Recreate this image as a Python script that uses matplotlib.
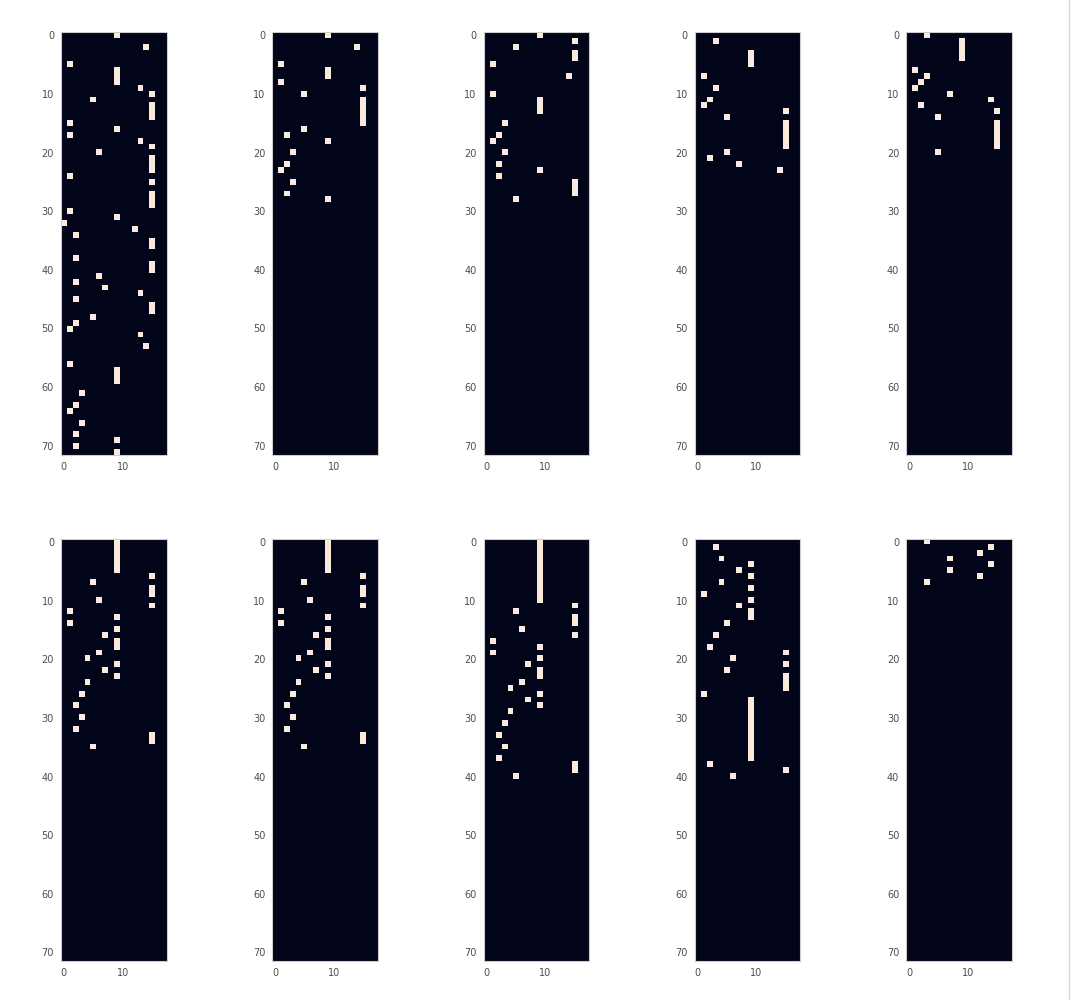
import numpy as np
import matplotlib
matplotlib.use("Agg")
import matplotlib.pyplot as plt
import seaborn as sns
from matplotlib.lines import Line2D

# grid size of every image
n_rows = 72
n_cols = 18

# each panel: list of vertical runs of "on" cells as (column, first_row, last_row)
panel_1 = [(9, 0, 0), (14, 2, 2), (1, 5, 5), (9, 6, 8), (13, 9, 9), (15, 10, 10), (5, 11, 11),
           (15, 12, 14), (1, 15, 15), (9, 16, 16), (1, 17, 17), (13, 18, 18), (15, 19, 19),
           (6, 20, 20), (15, 21, 23), (1, 24, 24), (15, 25, 25), (15, 27, 29), (1, 30, 30),
           (9, 31, 31), (0, 32, 32), (12, 33, 33), (2, 34, 34), (15, 35, 36), (2, 38, 38),
           (15, 39, 40), (6, 41, 41), (2, 42, 42), (7, 43, 43), (13, 44, 44), (2, 45, 45),
           (15, 46, 47), (5, 48, 48), (2, 49, 49), (1, 50, 50), (13, 51, 51), (14, 53, 53),
           (1, 56, 56), (9, 57, 59), (3, 61, 61), (2, 63, 63), (1, 64, 64), (3, 66, 66),
           (2, 68, 68), (9, 69, 69), (2, 70, 70), (9, 71, 71)]
panel_2 = [(9, 0, 0), (14, 2, 2), (1, 5, 5), (9, 6, 7), (1, 8, 8), (15, 9, 9), (5, 10, 10),
           (15, 11, 15), (5, 16, 16), (2, 17, 17), (9, 18, 18), (3, 20, 20), (2, 22, 22),
           (1, 23, 23), (3, 25, 25), (2, 27, 27), (9, 28, 28)]
panel_3 = [(9, 0, 0), (15, 1, 1), (5, 2, 2), (15, 3, 4), (1, 5, 5), (14, 7, 7), (1, 10, 10),
           (9, 11, 13), (3, 15, 15), (2, 17, 17), (1, 18, 18), (3, 20, 20), (2, 22, 22),
           (9, 23, 23), (2, 24, 24), (15, 25, 27), (5, 28, 28)]
panel_4 = [(3, 1, 1), (9, 3, 5), (1, 7, 7), (3, 9, 9), (2, 11, 11), (1, 12, 12), (15, 13, 13),
           (5, 14, 14), (15, 15, 19), (5, 20, 20), (2, 21, 21), (7, 22, 22), (14, 23, 23)]
panel_5 = [(3, 0, 0), (9, 1, 4), (1, 6, 6), (3, 7, 7), (2, 8, 8), (1, 9, 9), (7, 10, 10),
           (14, 11, 11), (2, 12, 12), (15, 13, 13), (5, 14, 14), (15, 15, 19), (5, 20, 20)]
panel_6 = [(9, 0, 5), (15, 6, 6), (5, 7, 7), (15, 8, 9), (6, 10, 10), (15, 11, 11), (1, 12, 12),
           (9, 13, 13), (1, 14, 14), (9, 15, 15), (7, 16, 16), (9, 17, 18), (6, 19, 19),
           (4, 20, 20), (9, 21, 21), (7, 22, 22), (9, 23, 23), (4, 24, 24), (3, 26, 26),
           (2, 28, 28), (3, 30, 30), (2, 32, 32), (15, 33, 34), (5, 35, 35)]
panel_7 = [(9, 0, 5), (15, 6, 6), (5, 7, 7), (15, 8, 9), (6, 10, 10), (15, 11, 11), (1, 12, 12),
           (9, 13, 13), (1, 14, 14), (9, 15, 15), (7, 16, 16), (9, 17, 18), (6, 19, 19),
           (4, 20, 20), (9, 21, 21), (7, 22, 22), (9, 23, 23), (4, 24, 24), (3, 26, 26),
           (2, 28, 28), (3, 30, 30), (2, 32, 32), (15, 33, 34), (5, 35, 35)]
panel_8 = [(9, 0, 10), (15, 11, 11), (5, 12, 12), (15, 13, 14), (6, 15, 15), (15, 16, 16),
           (1, 17, 17), (9, 18, 18), (1, 19, 19), (9, 20, 20), (7, 21, 21), (9, 22, 23),
           (6, 24, 24), (4, 25, 25), (9, 26, 26), (7, 27, 27), (9, 28, 28), (4, 29, 29),
           (3, 31, 31), (2, 33, 33), (3, 35, 35), (2, 37, 37), (15, 38, 39), (5, 40, 40)]
panel_9 = [(3, 1, 1), (4, 3, 3), (9, 4, 4), (7, 5, 5), (9, 6, 6), (4, 7, 7), (9, 8, 8),
           (1, 9, 9), (9, 10, 10), (7, 11, 11), (9, 12, 13), (5, 14, 14), (3, 16, 16),
           (2, 18, 18), (15, 19, 19), (6, 20, 20), (15, 21, 21), (5, 22, 22), (15, 23, 25),
           (1, 26, 26), (9, 27, 37), (2, 38, 38), (15, 39, 39), (6, 40, 40)]
panel_10 = [(3, 0, 0), (14, 1, 1), (12, 2, 2), (7, 3, 3), (14, 4, 4), (7, 5, 5), (12, 6, 6),
            (3, 7, 7)]

panels = [panel_1, panel_2, panel_3, panel_4, panel_5,
          panel_6, panel_7, panel_8, panel_9, panel_10]

y_ticks = [0, 10, 20, 30, 40, 50, 60, 70]
x_ticks = [0, 10]

sns.set_style("whitegrid")

fig = plt.figure(figsize=(10.74, 10), dpi=100)
W, H = 1074.0, 1000.0
cell = 5.865                      # pixels per image cell
ax_w = n_cols * cell
ax_h = n_rows * cell
tops = [32.3, 539.0]              # top edge of each row of panels (px)

for k, runs in enumerate(panels):
    img = np.zeros((n_rows, n_cols))
    for col, r0, r1 in runs:
        img[r0:r1 + 1, col] = 1

    row, i = divmod(k, 5)
    left = 61 + i * 211.3
    ax = fig.add_axes([left / W, 1 - (tops[row] + ax_h) / H, ax_w / W, ax_h / H])
    ax.imshow(img, cmap="rocket", vmin=0, vmax=1, aspect="auto", interpolation="nearest")
    ax.grid(False)
    ax.set_xticks(x_ticks)
    ax.set_yticks(y_ticks)
    ax.tick_params(length=0, labelsize=7, labelcolor="0.3", pad=5)
    for s in ax.spines.values():
        s.set_color("0.8")
        s.set_linewidth(0.8)

# thin border line on the right edge of the picture
fig.add_artist(Line2D([1068.5 / W, 1068.5 / W], [0, 1], color="0.85", linewidth=1))

fig.savefig("out.png", dpi=100)
